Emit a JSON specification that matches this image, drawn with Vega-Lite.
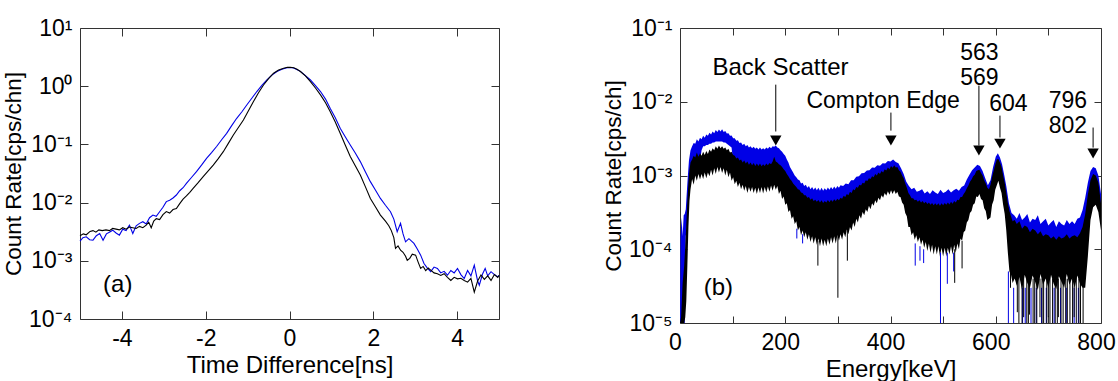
{
"$schema": "https://vega.github.io/schema/vega-lite/v6.json",
"background": "white",
"padding": {"left": 2, "top": 16, "right": 0, "bottom": 0},
"spacing": 100,
"config": {
  "font": "Liberation Sans",
  "view": {"stroke": "#333", "strokeWidth": 1},
  "axis": {"labelFont": "Liberation Sans", "labelFontSize": 23, "labelColor": "#000", "titleFont": "Liberation Sans", "titleFontSize": 23, "titleFontWeight": "normal", "titleColor": "#000", "grid": false, "domain": false, "tickColor": "#333", "tickWidth": 1, "tickSize": 8, "labelPadding": 8, "titlePadding": 3, "zindex": 1, "labelFlush": false},
  "axisX": {"titleFontSize": 24},
  "axisY": {"titleFontSize": 22.5},
  "text": {"font": "Liberation Sans", "fontSize": 24, "color": "#000"}
},
"datasets": {
  "a": [
    {"s":"black","t":-5.0,"v":0.0027},{"s":"black","t":-4.92,"v":0.0029},{"s":"black","t":-4.85,"v":0.0028},{"s":"black","t":-4.76,"v":0.0032},{"s":"black","t":-4.69,"v":0.0033},{"s":"black","t":-4.62,"v":0.0031},{"s":"black","t":-4.55,"v":0.0034},{"s":"black","t":-4.47,"v":0.0033},{"s":"black","t":-4.38,"v":0.0034},{"s":"black","t":-4.3,"v":0.0033},{"s":"black","t":-4.22,"v":0.0036},{"s":"black","t":-4.14,"v":0.0035},{"s":"black","t":-4.06,"v":0.0034},{"s":"black","t":-3.98,"v":0.0037},{"s":"black","t":-3.9,"v":0.0035},{"s":"black","t":-3.82,"v":0.0038},{"s":"black","t":-3.74,"v":0.0037},{"s":"black","t":-3.66,"v":0.0036},{"s":"black","t":-3.58,"v":0.0039},{"s":"black","t":-3.5,"v":0.0037},{"s":"black","t":-3.42,"v":0.0041},{"s":"black","t":-3.36,"v":0.0046},{"s":"black","t":-3.3,"v":0.0037},{"s":"black","t":-3.24,"v":0.0048},{"s":"black","t":-3.18,"v":0.0053},{"s":"black","t":-3.1,"v":0.0051},{"s":"black","t":-3.02,"v":0.0062},{"s":"black","t":-2.94,"v":0.007},{"s":"black","t":-2.86,"v":0.0066},{"s":"black","t":-2.78,"v":0.0076},{"s":"black","t":-2.7,"v":0.0079},{"s":"black","t":-2.62,"v":0.0096},{"s":"black","t":-2.54,"v":0.0115},{"s":"black","t":-2.46,"v":0.013},{"s":"black","t":-2.38,"v":0.015},{"s":"black","t":-2.3,"v":0.0175},{"s":"black","t":-2.18,"v":0.022},{"s":"black","t":-2.06,"v":0.028},{"s":"black","t":-1.94,"v":0.035},{"s":"black","t":-1.82,"v":0.044},{"s":"black","t":-1.7,"v":0.057},{"s":"black","t":-1.58,"v":0.075},{"s":"black","t":-1.46,"v":0.104},{"s":"black","t":-1.34,"v":0.145},{"s":"black","t":-1.22,"v":0.195},{"s":"black","t":-1.1,"v":0.263},{"s":"black","t":-0.98,"v":0.38},{"s":"black","t":-0.86,"v":0.545},{"s":"black","t":-0.74,"v":0.77},{"s":"black","t":-0.62,"v":1.05},{"s":"black","t":-0.5,"v":1.35},{"s":"black","t":-0.38,"v":1.67},{"s":"black","t":-0.26,"v":1.9},{"s":"black","t":-0.14,"v":2.04},{"s":"black","t":-0.05,"v":2.11},{"s":"black","t":0.02,"v":2.12},{"s":"black","t":0.1,"v":2.07},{"s":"black","t":0.18,"v":1.95},{"s":"black","t":0.26,"v":1.79},{"s":"black","t":0.38,"v":1.5},{"s":"black","t":0.5,"v":1.2},{"s":"black","t":0.62,"v":0.93},{"s":"black","t":0.74,"v":0.708},{"s":"black","t":0.86,"v":0.52},{"s":"black","t":0.97,"v":0.367},{"s":"black","t":1.09,"v":0.245},{"s":"black","t":1.21,"v":0.155},{"s":"black","t":1.33,"v":0.098},{"s":"black","t":1.45,"v":0.062},{"s":"black","t":1.57,"v":0.043},{"s":"black","t":1.69,"v":0.0297},{"s":"black","t":1.81,"v":0.0188},{"s":"black","t":1.93,"v":0.0118},{"s":"black","t":2.05,"v":0.0085},{"s":"black","t":2.17,"v":0.0061},{"s":"black","t":2.29,"v":0.0048},{"s":"black","t":2.37,"v":0.004},{"s":"black","t":2.43,"v":0.0033},{"s":"black","t":2.49,"v":0.0025},{"s":"black","t":2.53,"v":0.00163},{"s":"black","t":2.59,"v":0.0018},{"s":"black","t":2.65,"v":0.00152},{"s":"black","t":2.71,"v":0.0014},{"s":"black","t":2.77,"v":0.0012},{"s":"black","t":2.81,"v":0.00102},{"s":"black","t":2.87,"v":0.0011},{"s":"black","t":2.93,"v":0.0013},{"s":"black","t":3.01,"v":0.00125},{"s":"black","t":3.07,"v":0.00095},{"s":"black","t":3.13,"v":0.00074},{"s":"black","t":3.19,"v":0.0008},{"s":"black","t":3.25,"v":0.00068},{"s":"black","t":3.31,"v":0.00075},{"s":"black","t":3.37,"v":0.00069},{"s":"black","t":3.45,"v":0.00062},{"s":"black","t":3.53,"v":0.0006},{"s":"black","t":3.61,"v":0.00056},{"s":"black","t":3.69,"v":0.0006},{"s":"black","t":3.77,"v":0.00052},{"s":"black","t":3.85,"v":0.00046},{"s":"black","t":3.93,"v":0.00052},{"s":"black","t":4.01,"v":0.00049},{"s":"black","t":4.09,"v":0.0005},{"s":"black","t":4.17,"v":0.00046},{"s":"black","t":4.25,"v":0.00043},{"s":"black","t":4.33,"v":0.0005},{"s":"black","t":4.41,"v":0.00029},{"s":"black","t":4.49,"v":0.00045},{"s":"black","t":4.57,"v":0.00057},{"s":"black","t":4.65,"v":0.00048},{"s":"black","t":4.73,"v":0.00055},{"s":"black","t":4.81,"v":0.00046},{"s":"black","t":4.89,"v":0.00058},{"s":"black","t":4.97,"v":0.00052},{"s":"black","t":5.0,"v":0.00056},
    {"s":"blue","t":-5.0,"v":0.00217},{"s":"blue","t":-4.93,"v":0.0025},{"s":"blue","t":-4.85,"v":0.00259},{"s":"blue","t":-4.77,"v":0.0023},{"s":"blue","t":-4.69,"v":0.00226},{"s":"blue","t":-4.61,"v":0.0027},{"s":"blue","t":-4.53,"v":0.00295},{"s":"blue","t":-4.45,"v":0.00226},{"s":"blue","t":-4.37,"v":0.0029},{"s":"blue","t":-4.3,"v":0.0031},{"s":"blue","t":-4.22,"v":0.00336},{"s":"blue","t":-4.14,"v":0.003},{"s":"blue","t":-4.06,"v":0.00276},{"s":"blue","t":-3.98,"v":0.0035},{"s":"blue","t":-3.9,"v":0.0033},{"s":"blue","t":-3.82,"v":0.0041},{"s":"blue","t":-3.74,"v":0.00295},{"s":"blue","t":-3.66,"v":0.004},{"s":"blue","t":-3.58,"v":0.0044},{"s":"blue","t":-3.5,"v":0.00469},{"s":"blue","t":-3.42,"v":0.0043},{"s":"blue","t":-3.34,"v":0.0055},{"s":"blue","t":-3.26,"v":0.0061},{"s":"blue","t":-3.18,"v":0.0058},{"s":"blue","t":-3.1,"v":0.00697},{"s":"blue","t":-3.02,"v":0.0083},{"s":"blue","t":-2.94,"v":0.0104},{"s":"blue","t":-2.86,"v":0.011},{"s":"blue","t":-2.78,"v":0.012},{"s":"blue","t":-2.7,"v":0.0135},{"s":"blue","t":-2.62,"v":0.016},{"s":"blue","t":-2.54,"v":0.018},{"s":"blue","t":-2.46,"v":0.0214},{"s":"blue","t":-2.34,"v":0.027},{"s":"blue","t":-2.22,"v":0.034},{"s":"blue","t":-2.1,"v":0.044},{"s":"blue","t":-1.98,"v":0.0577},{"s":"blue","t":-1.86,"v":0.072},{"s":"blue","t":-1.74,"v":0.092},{"s":"blue","t":-1.62,"v":0.12},{"s":"blue","t":-1.5,"v":0.155},{"s":"blue","t":-1.38,"v":0.21},{"s":"blue","t":-1.26,"v":0.281},{"s":"blue","t":-1.14,"v":0.36},{"s":"blue","t":-1.02,"v":0.476},{"s":"blue","t":-0.9,"v":0.62},{"s":"blue","t":-0.78,"v":0.81},{"s":"blue","t":-0.66,"v":1.03},{"s":"blue","t":-0.54,"v":1.28},{"s":"blue","t":-0.42,"v":1.55},{"s":"blue","t":-0.3,"v":1.79},{"s":"blue","t":-0.18,"v":1.96},{"s":"blue","t":-0.06,"v":2.07},{"s":"blue","t":0.02,"v":2.09},{"s":"blue","t":0.1,"v":2.05},{"s":"blue","t":0.26,"v":1.8},{"s":"blue","t":0.38,"v":1.52},{"s":"blue","t":0.5,"v":1.28},{"s":"blue","t":0.62,"v":1.02},{"s":"blue","t":0.74,"v":0.81},{"s":"blue","t":0.86,"v":0.6},{"s":"blue","t":0.97,"v":0.418},{"s":"blue","t":1.09,"v":0.29},{"s":"blue","t":1.21,"v":0.189},{"s":"blue","t":1.33,"v":0.135},{"s":"blue","t":1.45,"v":0.0977},{"s":"blue","t":1.57,"v":0.071},{"s":"blue","t":1.69,"v":0.0506},{"s":"blue","t":1.81,"v":0.034},{"s":"blue","t":1.93,"v":0.0229},{"s":"blue","t":2.05,"v":0.0165},{"s":"blue","t":2.17,"v":0.0118},{"s":"blue","t":2.29,"v":0.009},{"s":"blue","t":2.41,"v":0.00697},{"s":"blue","t":2.49,"v":0.0052},{"s":"blue","t":2.57,"v":0.00316},{"s":"blue","t":2.65,"v":0.00439},{"s":"blue","t":2.71,"v":0.0029},{"s":"blue","t":2.77,"v":0.00212},{"s":"blue","t":2.85,"v":0.0024},{"s":"blue","t":2.97,"v":0.00199},{"s":"blue","t":3.05,"v":0.0016},{"s":"blue","t":3.13,"v":0.00125},{"s":"blue","t":3.21,"v":0.0009},{"s":"blue","t":3.29,"v":0.00075},{"s":"blue","t":3.37,"v":0.00065},{"s":"blue","t":3.45,"v":0.00078},{"s":"blue","t":3.53,"v":0.00074},{"s":"blue","t":3.61,"v":0.00062},{"s":"blue","t":3.69,"v":0.00066},{"s":"blue","t":3.77,"v":0.000565},{"s":"blue","t":3.85,"v":0.00068},{"s":"blue","t":3.93,"v":0.00062},{"s":"blue","t":4.01,"v":0.00074},{"s":"blue","t":4.09,"v":0.00058},{"s":"blue","t":4.17,"v":0.000496},{"s":"blue","t":4.25,"v":0.00068},{"s":"blue","t":4.33,"v":0.00055},{"s":"blue","t":4.41,"v":0.00084},{"s":"blue","t":4.49,"v":0.00045},{"s":"blue","t":4.53,"v":0.00038},{"s":"blue","t":4.61,"v":0.0006},{"s":"blue","t":4.67,"v":0.00074},{"s":"blue","t":4.73,"v":0.00055},{"s":"blue","t":4.81,"v":0.00065},{"s":"blue","t":4.89,"v":0.00058},{"s":"blue","t":4.97,"v":0.00053},{"s":"blue","t":5.0,"v":0.00056}
  ],
  "b": [
    {"s":"blue","E":0,"hi":0.00001,"lo":0.00001},{"s":"blue","E":1,"hi":0.00015,"lo":0.00001},{"s":"blue","E":3,"hi":0.00027,"lo":0.00001},{"s":"blue","E":5,"hi":0.00015,"lo":0.00001},{"s":"blue","E":7,"hi":0.00029,"lo":0.00001},{"s":"blue","E":9,"hi":0.0003,"lo":0.00001},{"s":"blue","E":11,"hi":0.00035,"lo":0.00015},{"s":"blue","E":13,"hi":0.0006,"lo":0.0002},{"s":"blue","E":15,"hi":0.001,"lo":0.0003},{"s":"blue","E":17,"hi":0.0016,"lo":0.0006},{"s":"blue","E":20,"hi":0.0022,"lo":0.001},{"s":"blue","E":23,"hi":0.0025,"lo":0.0013},{"s":"blue","E":26,"hi":0.00275,"lo":0.0014},{"s":"blue","E":29,"hi":0.0027,"lo":0.00145},{"s":"blue","E":32,"hi":0.0031,"lo":0.0016},{"s":"blue","E":35,"hi":0.0029,"lo":0.0015},{"s":"blue","E":38,"hi":0.00325,"lo":0.0016},{"s":"blue","E":41,"hi":0.0031,"lo":0.0022},{"s":"blue","E":44,"hi":0.00345,"lo":0.0025},{"s":"blue","E":47,"hi":0.00325,"lo":0.0025},{"s":"blue","E":50,"hi":0.0036,"lo":0.0026},{"s":"blue","E":53,"hi":0.00345,"lo":0.0026},{"s":"blue","E":56,"hi":0.0038,"lo":0.0027},{"s":"blue","E":59,"hi":0.0036,"lo":0.0027},{"s":"blue","E":62,"hi":0.00395,"lo":0.0028},{"s":"blue","E":65,"hi":0.00375,"lo":0.0028},{"s":"blue","E":68,"hi":0.00415,"lo":0.0029},{"s":"blue","E":71,"hi":0.0039,"lo":0.0029},{"s":"blue","E":74,"hi":0.0042,"lo":0.0029},{"s":"blue","E":77,"hi":0.00395,"lo":0.0029},{"s":"blue","E":80,"hi":0.00425,"lo":0.0029},{"s":"blue","E":83,"hi":0.0039,"lo":0.0028},{"s":"blue","E":86,"hi":0.004,"lo":0.0028},{"s":"blue","E":89,"hi":0.0037,"lo":0.0027},{"s":"blue","E":92,"hi":0.00375,"lo":0.0026},{"s":"blue","E":95,"hi":0.00345,"lo":0.0025},{"s":"blue","E":98,"hi":0.0035,"lo":0.0024},{"s":"blue","E":101,"hi":0.0032,"lo":0.0015},{"s":"blue","E":104,"hi":0.0032,"lo":0.0015},{"s":"blue","E":107,"hi":0.00295,"lo":0.0014},{"s":"blue","E":110,"hi":0.003,"lo":0.0014},{"s":"blue","E":113,"hi":0.00275,"lo":0.0013},{"s":"blue","E":116,"hi":0.0028,"lo":0.0013},{"s":"blue","E":119,"hi":0.0026,"lo":0.0012},{"s":"blue","E":122,"hi":0.0027,"lo":0.00125},{"s":"blue","E":125,"hi":0.0025,"lo":0.00115},{"s":"blue","E":128,"hi":0.0026,"lo":0.0012},{"s":"blue","E":131,"hi":0.0024,"lo":0.0011},{"s":"blue","E":134,"hi":0.0025,"lo":0.00115},{"s":"blue","E":137,"hi":0.00235,"lo":0.0011},{"s":"blue","E":140,"hi":0.00245,"lo":0.00115},{"s":"blue","E":143,"hi":0.0023,"lo":0.0011},{"s":"blue","E":146,"hi":0.0024,"lo":0.0011},{"s":"blue","E":149,"hi":0.00225,"lo":0.0011},{"s":"blue","E":152,"hi":0.0024,"lo":0.0011},{"s":"blue","E":155,"hi":0.00225,"lo":0.0011},{"s":"blue","E":158,"hi":0.00235,"lo":0.0011},{"s":"blue","E":161,"hi":0.00225,"lo":0.0011},{"s":"blue","E":164,"hi":0.0024,"lo":0.0011},{"s":"blue","E":167,"hi":0.0023,"lo":0.0011},{"s":"blue","E":170,"hi":0.00245,"lo":0.00115},{"s":"blue","E":173,"hi":0.00235,"lo":0.00115},{"s":"blue","E":176,"hi":0.0025,"lo":0.0012},{"s":"blue","E":179,"hi":0.00245,"lo":0.0013},{"s":"blue","E":182,"hi":0.00255,"lo":0.0012},{"s":"blue","E":185,"hi":0.0024,"lo":0.00115},{"s":"blue","E":188,"hi":0.00235,"lo":0.0011},{"s":"blue","E":191,"hi":0.0022,"lo":0.00105},{"s":"blue","E":194,"hi":0.0021,"lo":0.001},{"s":"blue","E":197,"hi":0.00195,"lo":0.0009},{"s":"blue","E":200,"hi":0.00185,"lo":0.00085},{"s":"blue","E":203,"hi":0.00165,"lo":0.0008},{"s":"blue","E":206,"hi":0.0015,"lo":0.0007},{"s":"blue","E":209,"hi":0.0013,"lo":0.00065},{"s":"blue","E":212,"hi":0.0012,"lo":0.0006},{"s":"blue","E":215,"hi":0.0011,"lo":0.00055},{"s":"blue","E":218,"hi":0.001,"lo":0.0005},{"s":"blue","E":221,"hi":0.00095,"lo":0.0005},{"s":"blue","E":224,"hi":0.00088,"lo":0.00045},{"s":"blue","E":227,"hi":0.00086,"lo":0.00045},{"s":"blue","E":230,"hi":0.00078,"lo":0.00042},{"s":"blue","E":233,"hi":0.0008,"lo":0.00042},{"s":"blue","E":236,"hi":0.00072,"lo":0.0004},{"s":"blue","E":239,"hi":0.00075,"lo":0.0004},{"s":"blue","E":242,"hi":0.00068,"lo":0.00038},{"s":"blue","E":245,"hi":0.00072,"lo":0.00038},{"s":"blue","E":248,"hi":0.00065,"lo":0.00036},{"s":"blue","E":251,"hi":0.0007,"lo":0.00036},{"s":"blue","E":254,"hi":0.00064,"lo":0.00035},{"s":"blue","E":257,"hi":0.00069,"lo":0.00035},{"s":"blue","E":260,"hi":0.00063,"lo":0.00034},{"s":"blue","E":263,"hi":0.00068,"lo":0.00034},{"s":"blue","E":266,"hi":0.00062,"lo":0.00033},{"s":"blue","E":269,"hi":0.00068,"lo":0.00033},{"s":"blue","E":272,"hi":0.00062,"lo":0.00033},{"s":"blue","E":275,"hi":0.00067,"lo":0.00033},{"s":"blue","E":278,"hi":0.00063,"lo":0.00033},{"s":"blue","E":281,"hi":0.00069,"lo":0.00034},{"s":"blue","E":284,"hi":0.00064,"lo":0.00034},{"s":"blue","E":287,"hi":0.0007,"lo":0.00035},{"s":"blue","E":290,"hi":0.00065,"lo":0.00035},{"s":"blue","E":293,"hi":0.00071,"lo":0.00036},{"s":"blue","E":296,"hi":0.00066,"lo":0.00036},{"s":"blue","E":299,"hi":0.00072,"lo":0.00037},{"s":"blue","E":302,"hi":0.00068,"lo":0.00037},{"s":"blue","E":305,"hi":0.00074,"lo":0.00039},{"s":"blue","E":310,"hi":0.00072,"lo":0.0004},{"s":"blue","E":315,"hi":0.00078,"lo":0.00042},{"s":"blue","E":320,"hi":0.00076,"lo":0.00044},{"s":"blue","E":325,"hi":0.00086,"lo":0.00046},{"s":"blue","E":330,"hi":0.00086,"lo":0.00049},{"s":"blue","E":335,"hi":0.00096,"lo":0.00052},{"s":"blue","E":340,"hi":0.00098,"lo":0.00056},{"s":"blue","E":345,"hi":0.00107,"lo":0.0006},{"s":"blue","E":350,"hi":0.00108,"lo":0.00062},{"s":"blue","E":355,"hi":0.00117,"lo":0.00067},{"s":"blue","E":360,"hi":0.00118,"lo":0.0007},{"s":"blue","E":365,"hi":0.00128,"lo":0.00075},{"s":"blue","E":370,"hi":0.00127,"lo":0.00078},{"s":"blue","E":375,"hi":0.00138,"lo":0.00082},{"s":"blue","E":380,"hi":0.00136,"lo":0.00085},{"s":"blue","E":385,"hi":0.00147,"lo":0.0009},{"s":"blue","E":390,"hi":0.00145,"lo":0.00092},{"s":"blue","E":395,"hi":0.00157,"lo":0.00098},{"s":"blue","E":400,"hi":0.00155,"lo":0.001},{"s":"blue","E":405,"hi":0.00165,"lo":0.00105},{"s":"blue","E":410,"hi":0.00152,"lo":0.001},{"s":"blue","E":415,"hi":0.00147,"lo":0.00095},{"s":"blue","E":420,"hi":0.00125,"lo":0.00085},{"s":"blue","E":425,"hi":0.00105,"lo":0.0007},{"s":"blue","E":430,"hi":0.00082,"lo":0.00055},{"s":"blue","E":435,"hi":0.00072,"lo":0.00045},{"s":"blue","E":440,"hi":0.00065,"lo":0.0004},{"s":"blue","E":445,"hi":0.00068,"lo":0.00038},{"s":"blue","E":450,"hi":0.0006,"lo":0.00036},{"s":"blue","E":455,"hi":0.00062,"lo":0.00035},{"s":"blue","E":460,"hi":0.00065,"lo":0.00034},{"s":"blue","E":465,"hi":0.00057,"lo":0.00033},{"s":"blue","E":470,"hi":0.00061,"lo":0.00033},{"s":"blue","E":475,"hi":0.00056,"lo":0.00032},{"s":"blue","E":480,"hi":0.00063,"lo":0.00032},{"s":"blue","E":485,"hi":0.00059,"lo":0.00032},{"s":"blue","E":490,"hi":0.00056,"lo":0.00032},{"s":"blue","E":495,"hi":0.00064,"lo":0.00032},{"s":"blue","E":500,"hi":0.00058,"lo":0.00032},{"s":"blue","E":505,"hi":0.0006,"lo":0.00033},{"s":"blue","E":510,"hi":0.00065,"lo":0.00033},{"s":"blue","E":515,"hi":0.00059,"lo":0.00034},{"s":"blue","E":520,"hi":0.00063,"lo":0.00034},{"s":"blue","E":525,"hi":0.00066,"lo":0.00036},{"s":"blue","E":530,"hi":0.00062,"lo":0.00037},{"s":"blue","E":535,"hi":0.0007,"lo":0.0004},{"s":"blue","E":540,"hi":0.00073,"lo":0.00044},{"s":"blue","E":545,"hi":0.00088,"lo":0.00052},{"s":"blue","E":550,"hi":0.00102,"lo":0.00062},{"s":"blue","E":555,"hi":0.00118,"lo":0.00072},{"s":"blue","E":560,"hi":0.00128,"lo":0.00082},{"s":"blue","E":565,"hi":0.0014,"lo":0.00092},{"s":"blue","E":570,"hi":0.00135,"lo":0.00092},{"s":"blue","E":575,"hi":0.00115,"lo":0.00078},{"s":"blue","E":580,"hi":0.00092,"lo":0.00065},{"s":"blue","E":585,"hi":0.00074,"lo":0.00052},{"s":"blue","E":590,"hi":0.00086,"lo":0.00056},{"s":"blue","E":595,"hi":0.0013,"lo":0.00085},{"s":"blue","E":600,"hi":0.0018,"lo":0.0012},{"s":"blue","E":604,"hi":0.002,"lo":0.0013},{"s":"blue","E":608,"hi":0.00175,"lo":0.0012},{"s":"blue","E":612,"hi":0.00142,"lo":0.00095},{"s":"blue","E":616,"hi":0.00102,"lo":0.00065},{"s":"blue","E":620,"hi":0.00072,"lo":0.00045},{"s":"blue","E":625,"hi":0.00042,"lo":0.00026},{"s":"blue","E":630,"hi":0.00031,"lo":0.0002},{"s":"blue","E":635,"hi":0.00029,"lo":0.00018},{"s":"blue","E":640,"hi":0.00026,"lo":0.00018},{"s":"blue","E":645,"hi":0.00031,"lo":0.00017},{"s":"blue","E":650,"hi":0.00025,"lo":0.00016},{"s":"blue","E":655,"hi":0.00027,"lo":0.00016},{"s":"blue","E":660,"hi":0.0003,"lo":0.00015},{"s":"blue","E":665,"hi":0.00023,"lo":0.00014},{"s":"blue","E":670,"hi":0.00026,"lo":0.00014},{"s":"blue","E":675,"hi":0.00025,"lo":0.00013},{"s":"blue","E":680,"hi":0.00029,"lo":0.00013},{"s":"blue","E":685,"hi":0.00022,"lo":0.00012},{"s":"blue","E":690,"hi":0.00024,"lo":0.00012},{"s":"blue","E":695,"hi":0.00026,"lo":0.000115},{"s":"blue","E":700,"hi":0.00021,"lo":0.000115},{"s":"blue","E":705,"hi":0.00023,"lo":0.00011},{"s":"blue","E":710,"hi":0.00025,"lo":0.00011},{"s":"blue","E":715,"hi":0.0002,"lo":0.000105},{"s":"blue","E":720,"hi":0.00024,"lo":0.00011},{"s":"blue","E":725,"hi":0.00022,"lo":0.00011},{"s":"blue","E":730,"hi":0.00021,"lo":0.000115},{"s":"blue","E":735,"hi":0.00025,"lo":0.00011},{"s":"blue","E":740,"hi":0.00022,"lo":0.000115},{"s":"blue","E":745,"hi":0.00024,"lo":0.00011},{"s":"blue","E":750,"hi":0.00022,"lo":0.00012},{"s":"blue","E":755,"hi":0.00026,"lo":0.00012},{"s":"blue","E":760,"hi":0.00027,"lo":0.00013},{"s":"blue","E":765,"hi":0.00034,"lo":0.00015},{"s":"blue","E":770,"hi":0.0005,"lo":0.00024},{"s":"blue","E":775,"hi":0.0008,"lo":0.00044},{"s":"blue","E":780,"hi":0.00115,"lo":0.00069},{"s":"blue","E":785,"hi":0.0013,"lo":0.00084},{"s":"blue","E":790,"hi":0.00125,"lo":0.0008},{"s":"blue","E":795,"hi":0.001,"lo":0.00064},{"s":"blue","E":800,"hi":0.00056,"lo":0.00034},
    {"s":"black","E":0,"hi":0.00001,"lo":0.00001},{"s":"black","E":2,"hi":0.000012,"lo":0.00001},{"s":"black","E":5,"hi":0.000035,"lo":0.00001},{"s":"black","E":8,"hi":0.00006,"lo":0.00001},{"s":"black","E":10,"hi":0.00011,"lo":0.000012},{"s":"black","E":12,"hi":0.00022,"lo":0.00002},{"s":"black","E":14,"hi":0.00045,"lo":0.00006},{"s":"black","E":16,"hi":0.0008,"lo":0.0002},{"s":"black","E":18,"hi":0.0012,"lo":0.00045},{"s":"black","E":20,"hi":0.0015,"lo":0.00065},{"s":"black","E":23,"hi":0.00165,"lo":0.0009},{"s":"black","E":26,"hi":0.00185,"lo":0.00075},{"s":"black","E":29,"hi":0.00175,"lo":0.001},{"s":"black","E":32,"hi":0.00205,"lo":0.00085},{"s":"black","E":35,"hi":0.0018,"lo":0.00105},{"s":"black","E":38,"hi":0.002,"lo":0.00088},{"s":"black","E":41,"hi":0.00185,"lo":0.00105},{"s":"black","E":44,"hi":0.0021,"lo":0.0009},{"s":"black","E":47,"hi":0.0019,"lo":0.0011},{"s":"black","E":50,"hi":0.00215,"lo":0.00092},{"s":"black","E":53,"hi":0.00195,"lo":0.0011},{"s":"black","E":56,"hi":0.00225,"lo":0.00098},{"s":"black","E":59,"hi":0.0021,"lo":0.0012},{"s":"black","E":62,"hi":0.00235,"lo":0.001},{"s":"black","E":65,"hi":0.0022,"lo":0.00125},{"s":"black","E":68,"hi":0.0025,"lo":0.00105},{"s":"black","E":71,"hi":0.0023,"lo":0.0013},{"s":"black","E":74,"hi":0.00255,"lo":0.0011},{"s":"black","E":77,"hi":0.00235,"lo":0.0013},{"s":"black","E":80,"hi":0.0025,"lo":0.00108},{"s":"black","E":83,"hi":0.0023,"lo":0.00125},{"s":"black","E":86,"hi":0.0024,"lo":0.001},{"s":"black","E":89,"hi":0.0022,"lo":0.0012},{"s":"black","E":92,"hi":0.0023,"lo":0.00095},{"s":"black","E":95,"hi":0.00205,"lo":0.0011},{"s":"black","E":98,"hi":0.0021,"lo":0.00085},{"s":"black","E":101,"hi":0.0019,"lo":0.00095},{"s":"black","E":104,"hi":0.00185,"lo":0.00076},{"s":"black","E":107,"hi":0.0017,"lo":0.00085},{"s":"black","E":110,"hi":0.00175,"lo":0.0007},{"s":"black","E":113,"hi":0.0016,"lo":0.0008},{"s":"black","E":116,"hi":0.00165,"lo":0.00065},{"s":"black","E":119,"hi":0.0015,"lo":0.00075},{"s":"black","E":122,"hi":0.0016,"lo":0.00062},{"s":"black","E":125,"hi":0.00145,"lo":0.00072},{"s":"black","E":128,"hi":0.00155,"lo":0.00058},{"s":"black","E":131,"hi":0.0014,"lo":0.0007},{"s":"black","E":134,"hi":0.0015,"lo":0.0006},{"s":"black","E":137,"hi":0.00138,"lo":0.0007},{"s":"black","E":140,"hi":0.00148,"lo":0.00058},{"s":"black","E":143,"hi":0.00135,"lo":0.00068},{"s":"black","E":146,"hi":0.00145,"lo":0.00056},{"s":"black","E":149,"hi":0.00135,"lo":0.00069},{"s":"black","E":152,"hi":0.00145,"lo":0.00058},{"s":"black","E":155,"hi":0.00133,"lo":0.0007},{"s":"black","E":158,"hi":0.00142,"lo":0.00057},{"s":"black","E":161,"hi":0.00135,"lo":0.0007},{"s":"black","E":164,"hi":0.00145,"lo":0.00059},{"s":"black","E":167,"hi":0.00138,"lo":0.00071},{"s":"black","E":170,"hi":0.00148,"lo":0.0006},{"s":"black","E":173,"hi":0.00142,"lo":0.00073},{"s":"black","E":176,"hi":0.00155,"lo":0.00062},{"s":"black","E":179,"hi":0.0018,"lo":0.00075},{"s":"black","E":182,"hi":0.00155,"lo":0.00064},{"s":"black","E":185,"hi":0.0015,"lo":0.00072},{"s":"black","E":188,"hi":0.00142,"lo":0.00056},{"s":"black","E":191,"hi":0.00138,"lo":0.00062},{"s":"black","E":194,"hi":0.0013,"lo":0.00048},{"s":"black","E":197,"hi":0.00122,"lo":0.00052},{"s":"black","E":200,"hi":0.00115,"lo":0.0004},{"s":"black","E":203,"hi":0.00105,"lo":0.00042},{"s":"black","E":206,"hi":0.00098,"lo":0.00032},{"s":"black","E":209,"hi":0.0009,"lo":0.00034},{"s":"black","E":212,"hi":0.00085,"lo":0.00026},{"s":"black","E":215,"hi":0.00078,"lo":0.00028},{"s":"black","E":218,"hi":0.00074,"lo":0.00022},{"s":"black","E":221,"hi":0.0007,"lo":0.00024},{"s":"black","E":224,"hi":0.00065,"lo":0.00018},{"s":"black","E":227,"hi":0.00064,"lo":0.0002},{"s":"black","E":230,"hi":0.00059,"lo":0.000155},{"s":"black","E":233,"hi":0.00058,"lo":0.00018},{"s":"black","E":236,"hi":0.00054,"lo":0.000145},{"s":"black","E":239,"hi":0.00054,"lo":0.00017},{"s":"black","E":242,"hi":0.0005,"lo":0.000135},{"s":"black","E":245,"hi":0.00051,"lo":0.00016},{"s":"black","E":248,"hi":0.00047,"lo":0.000125},{"s":"black","E":251,"hi":0.00049,"lo":0.00015},{"s":"black","E":254,"hi":0.00045,"lo":0.00012},{"s":"black","E":257,"hi":0.00047,"lo":0.000145},{"s":"black","E":260,"hi":0.00044,"lo":0.000115},{"s":"black","E":263,"hi":0.000465,"lo":0.00014},{"s":"black","E":266,"hi":0.00043,"lo":0.00011},{"s":"black","E":269,"hi":0.00046,"lo":0.00014},{"s":"black","E":272,"hi":0.000425,"lo":0.00011},{"s":"black","E":275,"hi":0.00045,"lo":0.000135},{"s":"black","E":278,"hi":0.00043,"lo":0.00011},{"s":"black","E":281,"hi":0.000465,"lo":0.00014},{"s":"black","E":284,"hi":0.000435,"lo":0.000115},{"s":"black","E":287,"hi":0.00047,"lo":0.000145},{"s":"black","E":290,"hi":0.00044,"lo":0.00012},{"s":"black","E":293,"hi":0.000475,"lo":0.00015},{"s":"black","E":296,"hi":0.00045,"lo":0.00012},{"s":"black","E":299,"hi":0.000485,"lo":0.000155},{"s":"black","E":302,"hi":0.00046,"lo":0.00013},{"s":"black","E":305,"hi":0.0005,"lo":0.00016},{"s":"black","E":308,"hi":0.000485,"lo":0.000135},{"s":"black","E":311,"hi":0.00053,"lo":0.00017},{"s":"black","E":314,"hi":0.00051,"lo":0.000145},{"s":"black","E":317,"hi":0.00056,"lo":0.000185},{"s":"black","E":320,"hi":0.00054,"lo":0.00016},{"s":"black","E":323,"hi":0.0006,"lo":0.0002},{"s":"black","E":326,"hi":0.00058,"lo":0.00018},{"s":"black","E":329,"hi":0.00065,"lo":0.00023},{"s":"black","E":332,"hi":0.00063,"lo":0.0002},{"s":"black","E":335,"hi":0.0007,"lo":0.00026},{"s":"black","E":338,"hi":0.00068,"lo":0.00023},{"s":"black","E":341,"hi":0.00075,"lo":0.00029},{"s":"black","E":344,"hi":0.00073,"lo":0.00026},{"s":"black","E":347,"hi":0.0008,"lo":0.00032},{"s":"black","E":350,"hi":0.00078,"lo":0.00029},{"s":"black","E":353,"hi":0.00086,"lo":0.00035},{"s":"black","E":356,"hi":0.00084,"lo":0.00032},{"s":"black","E":359,"hi":0.00092,"lo":0.00039},{"s":"black","E":362,"hi":0.0009,"lo":0.00035},{"s":"black","E":365,"hi":0.00098,"lo":0.00042},{"s":"black","E":368,"hi":0.00095,"lo":0.00039},{"s":"black","E":371,"hi":0.00105,"lo":0.00046},{"s":"black","E":374,"hi":0.001,"lo":0.00042},{"s":"black","E":377,"hi":0.0011,"lo":0.0005},{"s":"black","E":380,"hi":0.00105,"lo":0.00046},{"s":"black","E":383,"hi":0.00115,"lo":0.00054},{"s":"black","E":386,"hi":0.0011,"lo":0.0005},{"s":"black","E":389,"hi":0.00122,"lo":0.00058},{"s":"black","E":392,"hi":0.00117,"lo":0.00053},{"s":"black","E":395,"hi":0.00128,"lo":0.00061},{"s":"black","E":398,"hi":0.00122,"lo":0.00055},{"s":"black","E":401,"hi":0.00135,"lo":0.00063},{"s":"black","E":404,"hi":0.00127,"lo":0.00056},{"s":"black","E":407,"hi":0.00138,"lo":0.00063},{"s":"black","E":410,"hi":0.00128,"lo":0.00056},{"s":"black","E":413,"hi":0.0013,"lo":0.0006},{"s":"black","E":416,"hi":0.00118,"lo":0.00052},{"s":"black","E":419,"hi":0.00112,"lo":0.00051},{"s":"black","E":422,"hi":0.001,"lo":0.00043},{"s":"black","E":425,"hi":0.00092,"lo":0.0004},{"s":"black","E":428,"hi":0.00078,"lo":0.00031},{"s":"black","E":431,"hi":0.00068,"lo":0.00028},{"s":"black","E":434,"hi":0.00058,"lo":0.0002},{"s":"black","E":437,"hi":0.00054,"lo":0.0002},{"s":"black","E":440,"hi":0.00049,"lo":0.000155},{"s":"black","E":443,"hi":0.00049,"lo":0.00017},{"s":"black","E":446,"hi":0.00046,"lo":0.000135},{"s":"black","E":449,"hi":0.00047,"lo":0.000155},{"s":"black","E":452,"hi":0.00044,"lo":0.000125},{"s":"black","E":455,"hi":0.00046,"lo":0.000145},{"s":"black","E":458,"hi":0.00043,"lo":0.000115},{"s":"black","E":461,"hi":0.00045,"lo":0.000135},{"s":"black","E":464,"hi":0.00042,"lo":0.000105},{"s":"black","E":467,"hi":0.00044,"lo":0.000125},{"s":"black","E":470,"hi":0.00041,"lo":0.000095},{"s":"black","E":473,"hi":0.00043,"lo":0.00012},{"s":"black","E":476,"hi":0.0004,"lo":0.00009},{"s":"black","E":479,"hi":0.000425,"lo":0.000115},{"s":"black","E":482,"hi":0.000395,"lo":0.000085},{"s":"black","E":485,"hi":0.00042,"lo":0.00011},{"s":"black","E":488,"hi":0.000395,"lo":0.000085},{"s":"black","E":491,"hi":0.00042,"lo":0.00011},{"s":"black","E":494,"hi":0.00039,"lo":0.00008},{"s":"black","E":497,"hi":0.00042,"lo":0.000105},{"s":"black","E":500,"hi":0.000395,"lo":0.00008},{"s":"black","E":503,"hi":0.000425,"lo":0.000105},{"s":"black","E":506,"hi":0.0004,"lo":0.00008},{"s":"black","E":509,"hi":0.00043,"lo":0.000105},{"s":"black","E":512,"hi":0.000405,"lo":0.000085},{"s":"black","E":515,"hi":0.00044,"lo":0.00011},{"s":"black","E":518,"hi":0.000415,"lo":0.000085},{"s":"black","E":521,"hi":0.00045,"lo":0.000115},{"s":"black","E":524,"hi":0.00043,"lo":0.00009},{"s":"black","E":527,"hi":0.00047,"lo":0.00012},{"s":"black","E":530,"hi":0.00046,"lo":0.0001},{"s":"black","E":533,"hi":0.00051,"lo":0.00014},{"s":"black","E":536,"hi":0.00051,"lo":0.00013},{"s":"black","E":539,"hi":0.00056,"lo":0.00017},{"s":"black","E":542,"hi":0.0006,"lo":0.00018},{"s":"black","E":545,"hi":0.00067,"lo":0.00023},{"s":"black","E":548,"hi":0.00073,"lo":0.00025},{"s":"black","E":551,"hi":0.00082,"lo":0.00031},{"s":"black","E":554,"hi":0.00088,"lo":0.00033},{"s":"black","E":557,"hi":0.00098,"lo":0.0004},{"s":"black","E":560,"hi":0.00102,"lo":0.00042},{"s":"black","E":563,"hi":0.00115,"lo":0.00052},{"s":"black","E":566,"hi":0.00118,"lo":0.00051},{"s":"black","E":569,"hi":0.0012,"lo":0.00056},{"s":"black","E":572,"hi":0.00108,"lo":0.00048},{"s":"black","E":575,"hi":0.001,"lo":0.00046},{"s":"black","E":578,"hi":0.00086,"lo":0.00036},{"s":"black","E":581,"hi":0.00078,"lo":0.00033},{"s":"black","E":584,"hi":0.00068,"lo":0.00025},{"s":"black","E":587,"hi":0.00065,"lo":0.00026},{"s":"black","E":590,"hi":0.00075,"lo":0.00027},{"s":"black","E":593,"hi":0.00095,"lo":0.0004},{"s":"black","E":596,"hi":0.00115,"lo":0.00046},{"s":"black","E":599,"hi":0.0014,"lo":0.00064},{"s":"black","E":602,"hi":0.00165,"lo":0.00074},{"s":"black","E":605,"hi":0.00168,"lo":0.00085},{"s":"black","E":608,"hi":0.0015,"lo":0.00068},{"s":"black","E":611,"hi":0.0013,"lo":0.00058},{"s":"black","E":614,"hi":0.001,"lo":0.0004},{"s":"black","E":617,"hi":0.0008,"lo":0.0003},{"s":"black","E":620,"hi":0.00058,"lo":0.00018},{"s":"black","E":623,"hi":0.00042,"lo":0.00009},{"s":"black","E":626,"hi":0.00033,"lo":0.00005},{"s":"black","E":629,"hi":0.00028,"lo":0.000045},{"s":"black","E":632,"hi":0.00024,"lo":0.000035},{"s":"black","E":636,"hi":0.00025,"lo":0.00004},{"s":"black","E":640,"hi":0.00022,"lo":0.000032},{"s":"black","E":645,"hi":0.00024,"lo":0.000042},{"s":"black","E":650,"hi":0.00019,"lo":0.000028},{"s":"black","E":655,"hi":0.00021,"lo":0.000045},{"s":"black","E":660,"hi":0.0002,"lo":0.000035},{"s":"black","E":665,"hi":0.00017,"lo":0.00003},{"s":"black","E":670,"hi":0.00019,"lo":0.000044},{"s":"black","E":675,"hi":0.00018,"lo":0.000036},{"s":"black","E":680,"hi":0.00016,"lo":0.000028},{"s":"black","E":685,"hi":0.000175,"lo":0.000046},{"s":"black","E":690,"hi":0.00015,"lo":0.000033},{"s":"black","E":695,"hi":0.00016,"lo":0.00004},{"s":"black","E":700,"hi":0.000155,"lo":0.00003},{"s":"black","E":705,"hi":0.00014,"lo":0.000045},{"s":"black","E":710,"hi":0.00015,"lo":0.000034},{"s":"black","E":715,"hi":0.000135,"lo":0.000029},{"s":"black","E":720,"hi":0.00015,"lo":0.000043},{"s":"black","E":725,"hi":0.00014,"lo":0.000036},{"s":"black","E":730,"hi":0.000145,"lo":0.00003},{"s":"black","E":735,"hi":0.00016,"lo":0.000046},{"s":"black","E":740,"hi":0.00014,"lo":0.000033},{"s":"black","E":745,"hi":0.00015,"lo":0.00004},{"s":"black","E":750,"hi":0.000155,"lo":0.00003},{"s":"black","E":755,"hi":0.000145,"lo":0.000044},{"s":"black","E":760,"hi":0.000165,"lo":0.000034},{"s":"black","E":765,"hi":0.0002,"lo":0.00003},{"s":"black","E":770,"hi":0.0003,"lo":0.00003},{"s":"black","E":775,"hi":0.00055,"lo":0.00008},{"s":"black","E":780,"hi":0.00086,"lo":0.00025},{"s":"black","E":785,"hi":0.00105,"lo":0.00037},{"s":"black","E":790,"hi":0.001,"lo":0.0004},{"s":"black","E":795,"hi":0.0008,"lo":0.00032},{"s":"black","E":800,"hi":0.00042,"lo":0.00018}
  ],
  "spk": [
    {"s":"blue","E":222,"top":0.00019,"bot":0.00014},{"s":"blue","E":233,"top":0.00016,"bot":0.00012},{"s":"blue","E":447,"top":0.00012,"bot":0.00006},{"s":"blue","E":456,"top":0.00011,"bot":0.00007},{"s":"blue","E":463,"top":0.0001,"bot":0.000065},{"s":"blue","E":495,"top":0.00009,"bot":0.00001},{"s":"blue","E":508,"top":0.00009,"bot":0.000034},{"s":"blue","E":520,"top":0.00009,"bot":0.00005},{"s":"blue","E":624,"top":0.00005,"bot":0.00001},{"s":"blue","E":634,"top":0.00003,"bot":0.00001},{"s":"blue","E":651,"top":0.00003,"bot":0.00001},{"s":"blue","E":656,"top":0.00003,"bot":0.00001},{"s":"blue","E":667,"top":0.00003,"bot":0.00001},{"s":"blue","E":677,"top":0.00003,"bot":0.00001},{"s":"blue","E":687,"top":0.00003,"bot":0.00001},{"s":"blue","E":696,"top":0.00003,"bot":0.00001},{"s":"blue","E":711,"top":0.00003,"bot":0.00001},{"s":"blue","E":723,"top":0.00003,"bot":0.00001},{"s":"blue","E":734,"top":0.00003,"bot":0.00001},{"s":"blue","E":749,"top":0.00003,"bot":0.00001},{"s":"blue","E":757,"top":0.00003,"bot":0.00001},
    {"s":"black","E":262,"top":0.00013,"bot":0.00006},{"s":"black","E":300,"top":0.00015,"bot":0.000022},{"s":"black","E":318,"top":0.00018,"bot":0.00007},{"s":"black","E":522,"top":0.0001,"bot":0.000035},{"s":"black","E":536,"top":0.00013,"bot":0.000055},{"s":"black","E":628,"top":0.00006,"bot":0.00003},
    {"s":"black","E":641,"top":0.00004,"bot":0.000014},{"s":"black","E":644,"top":0.00005,"bot":0.00001},{"s":"black","E":650,"top":0.00004,"bot":0.00001},{"s":"black","E":653,"top":0.00005,"bot":0.000012},{"s":"black","E":659,"top":0.00004,"bot":0.00001},{"s":"black","E":662,"top":0.00004,"bot":0.00001},{"s":"black","E":664,"top":0.00005,"bot":0.000013},{"s":"black","E":671,"top":0.00004,"bot":0.00001},{"s":"black","E":674,"top":0.00004,"bot":0.00001},{"s":"black","E":678,"top":0.00005,"bot":0.00001},{"s":"black","E":684,"top":0.00004,"bot":0.000012},{"s":"black","E":688,"top":0.00004,"bot":0.00001},{"s":"black","E":691,"top":0.00005,"bot":0.00001},{"s":"black","E":697,"top":0.00004,"bot":0.00001},{"s":"black","E":700,"top":0.00004,"bot":0.000012},{"s":"black","E":703,"top":0.00005,"bot":0.00001},{"s":"black","E":708,"top":0.00004,"bot":0.00001},{"s":"black","E":713,"top":0.00004,"bot":0.00001},{"s":"black","E":717,"top":0.00005,"bot":0.00001},{"s":"black","E":719,"top":0.00004,"bot":0.000012},{"s":"black","E":724,"top":0.00004,"bot":0.00001},{"s":"black","E":728,"top":0.00005,"bot":0.00001},{"s":"black","E":733,"top":0.00004,"bot":0.00001},{"s":"black","E":736,"top":0.00004,"bot":0.00001},{"s":"black","E":741,"top":0.00005,"bot":0.00001},{"s":"black","E":746,"top":0.00004,"bot":0.00001},{"s":"black","E":749,"top":0.00004,"bot":0.000012},{"s":"black","E":753,"top":0.00005,"bot":0.00001},{"s":"black","E":758,"top":0.00004,"bot":0.00001},{"s":"black","E":761,"top":0.00004,"bot":0.00001},{"s":"black","E":766,"top":0.00005,"bot":0.00001}
  ],
  "arr": [
    {"E":182,"y1":0.01706,"y2":0.00395,"tri":0.00298},
    {"E":400.8,"y1":0.00713,"y2":0.00406,"tri":0.00298},
    {"E":568,"y1":0.01656,"y2":0.00255,"tri":0.00218},
    {"E":608,"y1":0.00649,"y2":0.00328,"tri":0.00271},
    {"E":785,"y1":0.00447,"y2":0.00239,"tri":0.00199}
  ],
  "lab": [
    {"E":191,"v":0.02897,"txt":"Back Scatter","fs":24},
    {"E":386,"v":0.01038,"txt":"Compton Edge","fs":23},
    {"E":569,"v":0.0463,"txt":"563\n569","fs":23},
    {"E":624,"v":0.009294,"txt":"604","fs":23},
    {"E":737,"v":0.01038,"txt":"796\n802","fs":23},
    {"E":73,"v":0.0000295,"txt":"(b)","fs":24}
  ]
},
"hconcat": [
  {
    "width": 419, "height": 291,
    "layer": [
      {"data": {"name": "a"}, "transform": [{"filter": "datum.s === 'blue'"}],
       "mark": {"type": "line", "color": "#0000e6", "strokeWidth": 1.1},
       "encoding": {
         "x": {"field": "t", "type": "quantitative", "scale": {"domain": [-5, 5], "nice": false, "zero": false},
               "axis": {"title": "Time Difference[ns]", "values": [-4, -2, 0, 2, 4], "labelExpr": "'' + datum.value", "ticks": false}},
         "y": {"field": "v", "type": "quantitative", "scale": {"type": "log", "domain": [0.0001, 10], "nice": false},
               "axis": {"title": "Count Rate[cps/chn]", "values": [0.0001, 0.001, 0.01, 0.1, 1, 10], "labelExpr": "'10' + ['⁻⁵','⁻⁴','⁻³','⁻²','⁻¹','⁰','¹'][round(log(datum.value)/LN10)+5]", "ticks": false}}
       }},
      {"data": {"name": "a"}, "transform": [{"filter": "datum.s === 'black'"}],
       "mark": {"type": "line", "color": "#000000", "strokeWidth": 1.1},
       "encoding": {
         "x": {"field": "t", "type": "quantitative", "axis": {"orient": "top", "offset": -291, "labels": false, "title": null, "values": [-4, -2, 0, 2, 4]}},
         "y": {"field": "v", "type": "quantitative", "axis": {"orient": "right", "offset": -419, "labels": false, "title": null, "values": [0.0001, 0.001, 0.01, 0.1, 1, 10]}}
       }},
      {"data": {"values": [{"t": -4.1, "v": 0.00038, "txt": "(a)"}]},
       "mark": {"type": "text", "fontSize": 24, "baseline": "middle", "align": "center"},
       "encoding": {
         "x": {"field": "t", "type": "quantitative", "axis": {"orient": "bottom", "offset": -291, "labels": false, "title": null, "values": [-4, -2, 0, 2, 4]}},
         "y": {"field": "v", "type": "quantitative", "axis": {"orient": "left", "offset": -419, "labels": false, "title": null, "values": [0.0001, 0.001, 0.01, 0.1, 1, 10]}},
         "text": {"field": "txt"}
       }}
    ],
    "resolve": {"axis": {"x": "independent", "y": "independent"}}
  },
  {
    "width": 421, "height": 295,
    "layer": [
      {"data": {"name": "b"}, "transform": [{"filter": "datum.s === 'blue'"}],
       "mark": {"type": "area", "color": "#0000e6", "opacity": 1},
       "encoding": {
         "x": {"field": "E", "type": "quantitative", "scale": {"domain": [0, 800], "nice": false, "zero": false},
               "axis": {"title": "Energy[keV]", "values": [0, 200, 400, 600, 800], "labelExpr": "'' + datum.value", "labelOffset": -5, "ticks": false}},
         "y": {"field": "hi", "type": "quantitative", "scale": {"type": "log", "domain": [0.00001, 0.1], "nice": false},
               "axis": {"title": "Count Rate[cps/ch]", "values": [0.00001, 0.0001, 0.001, 0.01, 0.1], "labelExpr": "'10' + ['⁻⁵','⁻⁴','⁻³','⁻²','⁻¹','⁰','¹'][round(log(datum.value)/LN10)+5]", "ticks": false}},
         "y2": {"field": "lo"}
       }},
      {"data": {"name": "b"}, "transform": [{"filter": "datum.s === 'black'"}],
       "mark": {"type": "area", "color": "#000000", "opacity": 1},
       "encoding": {
         "x": {"field": "E", "type": "quantitative", "axis": {"orient": "top", "offset": -295, "labels": false, "title": null, "tickSize": 7, "values": [100, 200, 300, 400, 500, 600, 700]}},
         "y": {"field": "hi", "type": "quantitative", "axis": {"orient": "right", "offset": -421, "labels": false, "title": null, "tickSize": 7, "values": [0.00001, 0.0001, 0.001, 0.01, 0.1]}},
         "y2": {"field": "lo"}
       }},
      {"data": {"name": "spk"},
       "mark": {"type": "rule", "strokeWidth": 1},
       "encoding": {
         "x": {"field": "E", "type": "quantitative", "axis": null},
         "y": {"field": "top", "type": "quantitative", "axis": null},
         "y2": {"field": "bot"},
         "color": {"field": "s", "type": "nominal", "scale": {"domain": ["blue", "black"], "range": ["#0000e6", "#000000"]}, "legend": null}
       }},
      {"data": {"name": "arr"},
       "mark": {"type": "rule", "strokeWidth": 1, "color": "#000"},
       "encoding": {
         "x": {"field": "E", "type": "quantitative", "axis": null},
         "y": {"field": "y1", "type": "quantitative", "axis": null},
         "y2": {"field": "y2"}
       }},
      {"data": {"name": "arr"},
       "mark": {"type": "point", "shape": "triangle-down", "filled": true, "color": "#000", "size": 130, "opacity": 1},
       "encoding": {
         "x": {"field": "E", "type": "quantitative", "axis": null},
         "y": {"field": "tri", "type": "quantitative", "axis": null}
       }},
      {"data": {"name": "lab"},
       "mark": {"type": "text", "baseline": "middle", "align": "center", "lineBreak": "\n", "lineHeight": 25},
       "encoding": {
         "x": {"field": "E", "type": "quantitative", "axis": {"orient": "bottom", "offset": -295, "labels": false, "title": null, "tickSize": 7, "values": [100, 200, 300, 400, 500, 600, 700]}},
         "y": {"field": "v", "type": "quantitative", "axis": {"orient": "left", "offset": -421, "labels": false, "title": null, "tickSize": 7, "values": [0.00001, 0.0001, 0.001, 0.01, 0.1]}},
         "text": {"field": "txt"},
         "size": {"field": "fs", "type": "quantitative", "scale": null}
       }}
    ],
    "resolve": {"axis": {"x": "independent", "y": "independent"}}
  }
]
}
